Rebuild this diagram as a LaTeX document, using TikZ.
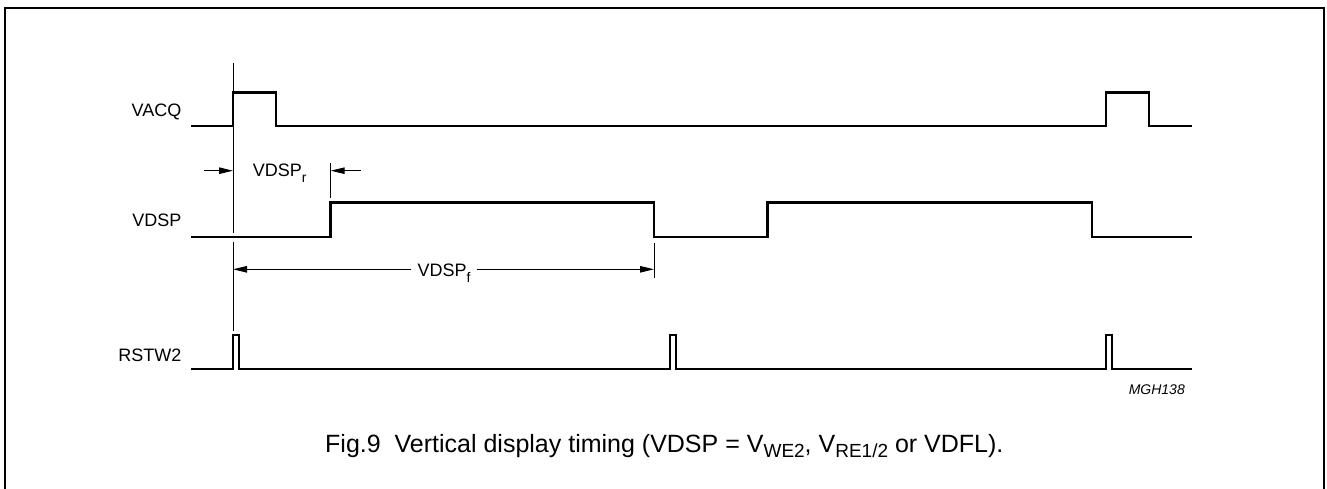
\documentclass[tikz,border=0pt]{standalone}
\usepackage{fontspec}
\setmainfont{Liberation Sans}
\usetikzlibrary{arrows.meta,positioning}

\newcommand{\lowtxt}[1]{\raisebox{-6pt}{\fontsize{14}{14}\selectfont #1}}
\newcommand{\capsub}[1]{\raisebox{-5pt}{\fontsize{19}{19}\selectfont #1}}

\begin{document}
\begin{tikzpicture}[x = 1pt, y = -1pt, style={font=\fontsize{18}{21}\selectfont},
  signal/.style={line width=2.7pt, line join=miter},
  hair/.style={line width=1pt},
  dimtip/.style={hair, -{Triangle[length=14pt, width=6.5pt]}},
  signame/.style={anchor=base east, inner sep=0pt}]
\useasboundingbox (0,0) rectangle (1327,489);
% Outer frame (open at the bottom)
\draw[line width=2pt] (5,492) -- (5,8) -- (1324,8) -- (1324,492);
% Signal names
\node[signame] (vacq) at (181.5,117) {VACQ};
\node[signame] (vdsp) at (181.5,226) {VDSP};
\node[signame] (rstw) at (181.5,361.5) {RSTW2};
% VACQ
\draw[signal] (191,126) -- (233,126) -- (233,92.5) -- (276,92.5) -- (276,126)
  -- (1106,126) -- (1106,92.5) -- (1149,92.5) -- (1149,126) -- (1192,126);
% VDSP
\draw[signal] (191,237) -- (330.5,237) -- (330.5,202.7) -- (654,202.7) -- (654,237)
  -- (767.5,237) -- (767.5,202.7) -- (1092,202.7) -- (1092,237) -- (1192,237);
% RSTW2
\draw[signal] (191,369) -- (233,369) -- (233,335) -- (239,335) -- (239,369)
  -- (670,369) -- (670,335) -- (676,335) -- (676,369)
  -- (1106,369) -- (1106,335) -- (1112,335) -- (1112,369) -- (1192,369);
% Reference line
\draw[hair] (233,63) -- (233,232.5);
\draw[hair] (233,241.5) -- (233,331);
% VDSP rise delay
\coordinate (rltail) at (204,170.7);
\coordinate (rl) at (233,170.7);
\coordinate (rrtail) at (361,170.7);
\coordinate (rr) at (330.7,170.7);
\draw[hair] (330.7,163.3) -- (330.7,197.7);
\draw[dimtip] (rltail) -- (rl);
\draw[dimtip] (rrtail) -- (rr);
\node[anchor=base west, inner sep=0pt] (dimr) at (252.7,176.7) {VDSP\lowtxt{r}};
% VDSP fall delay
\coordinate (fl) at (233,269.3);
\coordinate (fr) at (654,269.3);
\draw[hair] (654,243) -- (654,278);
\node[anchor=base, inner xsep=6pt, inner ysep=0pt] (dimf) at (444,276) {VDSP\lowtxt{f}};
\draw[dimtip] (dimf.west |- fl) -- (fl);
\draw[dimtip] (dimf.east |- fr) -- (fr);
% Drawing code and caption
\node[anchor=base east, inner sep=0pt, font=\fontsize{14}{16}\selectfont\itshape] (code) at (1185,394) {MGH138};
\node[anchor=base west, inner sep=0pt, font=\fontsize{25}{28}\selectfont] (caption) at (325,452.7)
  {Fig.9\ \ Vertical display timing (VDSP = V\capsub{WE2}, V\capsub{RE1/2} or VDFL).};
\end{tikzpicture}
\end{document}
